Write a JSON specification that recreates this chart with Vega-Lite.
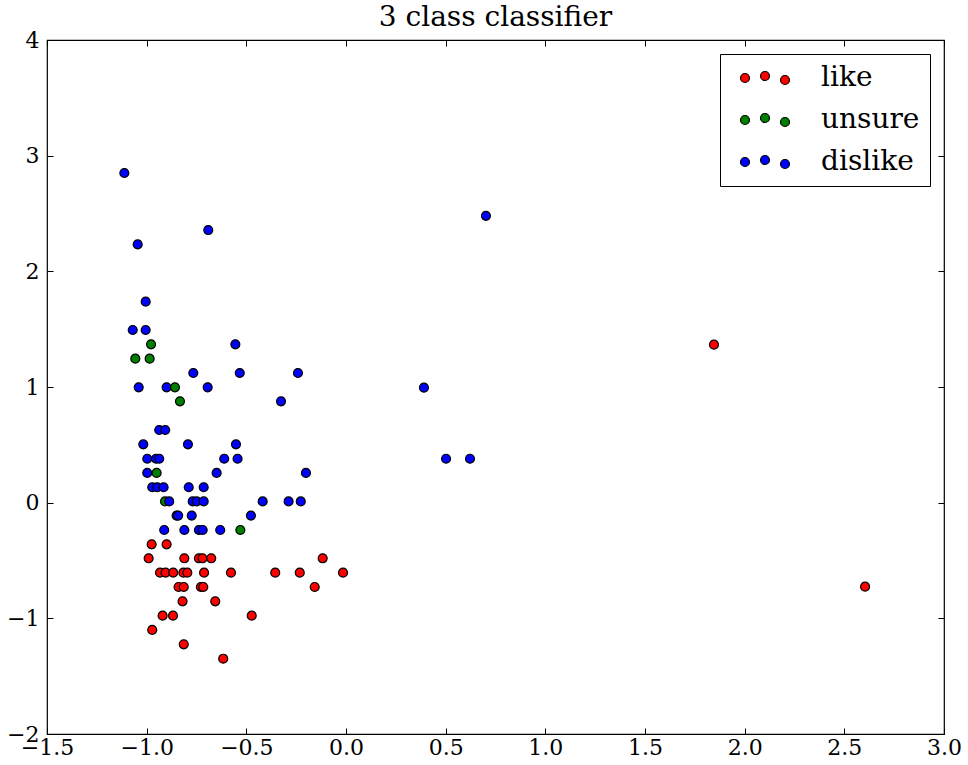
{
  "$schema": "https://vega.github.io/schema/vega-lite/v6.json",
  "autosize": {"type": "none"},
  "padding": {"left": 47, "top": 40, "right": 24, "bottom": 31},
  "width": 897,
  "height": 694,
  "background": "white",
  "config": {
    "font": "DejaVu Serif",
    "view": {"stroke": "black", "strokeWidth": 1.2},
    "axis": {"grid": false, "domain": false, "tickColor": "black", "labelColor": "black", "labelFont": "DejaVu Serif", "labelFontSize": 22, "tickSize": -6, "tickWidth": 1}
  },
  "title": {"text": "3 class classifier", "fontSize": 28, "fontWeight": "normal", "font": "DejaVu Serif", "color": "black", "offset": -3, "anchor": "middle"},
  "data": {"values": [
    {"x": 1.846, "y": 1.366, "label": "like"},
    {"x": 2.604, "y": -0.726, "label": "like"},
    {"x": -0.975, "y": -0.36, "label": "like"},
    {"x": -0.9, "y": -0.36, "label": "like"},
    {"x": -0.99, "y": -0.481, "label": "like"},
    {"x": -0.811, "y": -0.481, "label": "like"},
    {"x": -0.738, "y": -0.481, "label": "like"},
    {"x": -0.72, "y": -0.481, "label": "like"},
    {"x": -0.676, "y": -0.481, "label": "like"},
    {"x": -0.117, "y": -0.481, "label": "like"},
    {"x": -0.933, "y": -0.605, "label": "like"},
    {"x": -0.905, "y": -0.605, "label": "like"},
    {"x": -0.867, "y": -0.605, "label": "like"},
    {"x": -0.816, "y": -0.605, "label": "like"},
    {"x": -0.796, "y": -0.605, "label": "like"},
    {"x": -0.712, "y": -0.605, "label": "like"},
    {"x": -0.577, "y": -0.605, "label": "like"},
    {"x": -0.355, "y": -0.605, "label": "like"},
    {"x": -0.232, "y": -0.605, "label": "like"},
    {"x": -0.015, "y": -0.605, "label": "like"},
    {"x": -0.84, "y": -0.729, "label": "like"},
    {"x": -0.814, "y": -0.729, "label": "like"},
    {"x": -0.728, "y": -0.729, "label": "like"},
    {"x": -0.716, "y": -0.729, "label": "like"},
    {"x": -0.157, "y": -0.729, "label": "like"},
    {"x": -0.82, "y": -0.853, "label": "like"},
    {"x": -0.656, "y": -0.853, "label": "like"},
    {"x": -0.92, "y": -0.977, "label": "like"},
    {"x": -0.868, "y": -0.977, "label": "like"},
    {"x": -0.473, "y": -0.977, "label": "like"},
    {"x": -0.972, "y": -1.1, "label": "like"},
    {"x": -0.814, "y": -1.225, "label": "like"},
    {"x": -0.616, "y": -1.349, "label": "like"},
    {"x": -0.978, "y": 1.369, "label": "unsure"},
    {"x": -1.057, "y": 1.245, "label": "unsure"},
    {"x": -0.985, "y": 1.245, "label": "unsure"},
    {"x": -0.833, "y": 0.876, "label": "unsure"},
    {"x": -0.908, "y": 0.011, "label": "unsure"},
    {"x": -0.53, "y": -0.236, "label": "unsure"},
    {"x": -1.112, "y": 2.85, "label": "dislike"},
    {"x": -0.691, "y": 2.357, "label": "dislike"},
    {"x": -1.045, "y": 2.233, "label": "dislike"},
    {"x": -1.005, "y": 1.738, "label": "dislike"},
    {"x": -1.07, "y": 1.493, "label": "dislike"},
    {"x": -1.005, "y": 1.493, "label": "dislike"},
    {"x": -0.555, "y": 1.369, "label": "dislike"},
    {"x": -0.766, "y": 1.121, "label": "dislike"},
    {"x": -0.533, "y": 1.121, "label": "dislike"},
    {"x": -0.241, "y": 1.121, "label": "dislike"},
    {"x": -1.04, "y": 0.997, "label": "dislike"},
    {"x": -0.9, "y": 0.997, "label": "dislike"},
    {"x": -0.694, "y": 0.997, "label": "dislike"},
    {"x": -0.326, "y": 0.876, "label": "dislike"},
    {"x": -0.937, "y": 0.628, "label": "dislike"},
    {"x": -0.907, "y": 0.628, "label": "dislike"},
    {"x": -1.017, "y": 0.504, "label": "dislike"},
    {"x": -0.793, "y": 0.504, "label": "dislike"},
    {"x": -0.552, "y": 0.504, "label": "dislike"},
    {"x": -0.997, "y": 0.38, "label": "dislike"},
    {"x": -0.953, "y": 0.38, "label": "dislike"},
    {"x": -0.937, "y": 0.38, "label": "dislike"},
    {"x": -0.611, "y": 0.38, "label": "dislike"},
    {"x": -0.544, "y": 0.38, "label": "dislike"},
    {"x": -0.997, "y": 0.257, "label": "dislike"},
    {"x": -0.649, "y": 0.257, "label": "dislike"},
    {"x": -0.201, "y": 0.257, "label": "dislike"},
    {"x": -0.972, "y": 0.133, "label": "dislike"},
    {"x": -0.947, "y": 0.133, "label": "dislike"},
    {"x": -0.915, "y": 0.133, "label": "dislike"},
    {"x": -0.789, "y": 0.133, "label": "dislike"},
    {"x": -0.714, "y": 0.133, "label": "dislike"},
    {"x": -0.887, "y": 0.011, "label": "dislike"},
    {"x": -0.769, "y": 0.011, "label": "dislike"},
    {"x": -0.749, "y": 0.011, "label": "dislike"},
    {"x": -0.714, "y": 0.011, "label": "dislike"},
    {"x": -0.418, "y": 0.011, "label": "dislike"},
    {"x": -0.288, "y": 0.011, "label": "dislike"},
    {"x": -0.227, "y": 0.011, "label": "dislike"},
    {"x": -0.85, "y": -0.112, "label": "dislike"},
    {"x": -0.842, "y": -0.112, "label": "dislike"},
    {"x": -0.774, "y": -0.112, "label": "dislike"},
    {"x": -0.477, "y": -0.112, "label": "dislike"},
    {"x": -0.912, "y": -0.236, "label": "dislike"},
    {"x": -0.811, "y": -0.236, "label": "dislike"},
    {"x": -0.738, "y": -0.236, "label": "dislike"},
    {"x": -0.719, "y": -0.236, "label": "dislike"},
    {"x": -0.631, "y": -0.236, "label": "dislike"},
    {"x": 0.702, "y": 2.48, "label": "dislike"},
    {"x": 0.391, "y": 0.994, "label": "dislike"},
    {"x": 0.502, "y": 0.38, "label": "dislike"},
    {"x": 0.622, "y": 0.38, "label": "dislike"},
    {"x": -0.858, "y": 0.997, "label": "unsure"},
    {"x": -0.95, "y": 0.257, "label": "unsure"}
  ]},
  "layer": [
    {
      "mark": {"type": "circle", "opacity": 1, "size": 80, "stroke": "black", "strokeWidth": 1.2},
      "encoding": {
        "x": {"field": "x", "type": "quantitative", "scale": {"domain": [-1.5, 3.0], "nice": false, "zero": false}, "axis": {"title": null, "values": [-1.5, -1.0, -0.5, 0.0, 0.5, 1.0, 1.5, 2.0, 2.5, 3.0], "format": ".1f", "labelPadding": 9, "labelFlush": false}},
        "y": {"field": "y", "type": "quantitative", "scale": {"domain": [-2, 4], "nice": false, "zero": false}, "axis": {"title": null, "values": [-2, -1, 0, 1, 2, 3, 4], "format": "d", "labelPadding": 14, "labelFlush": false}},
        "color": {
          "field": "label", "type": "nominal",
          "scale": {"domain": ["like", "unsure", "dislike"], "range": ["#ff0000", "#008000", "#0000ff"]},
          "legend": {
            "title": null, "orient": "top-right", "offset": 14,
            "strokeColor": "black", "fillColor": "white", "padding": 10,
            "labelFontSize": 28, "labelFont": "DejaVu Serif", "labelColor": "black",
            "rowPadding": 14, "symbolSize": 400, "symbolOffset": 21, "labelOffset": 42,
            "symbolType": "M-2.45,0a0.45,0.45 0 1,0 0.9,0a0.45,0.45 0 1,0 -0.9,0M-0.45,-0.2a0.45,0.45 0 1,0 0.9,0a0.45,0.45 0 1,0 -0.9,0M1.55,0.2a0.45,0.45 0 1,0 0.9,0a0.45,0.45 0 1,0 -0.9,0",
            "symbolStrokeColor": "black", "symbolStrokeWidth": 1.2, "cornerRadius": 0,
            "encode": {"symbols": {"update": {"stroke": {"value": "black"}, "strokeWidth": {"value": 1.2}, "opacity": {"value": 1}}}}
          }
        }
      }
    },
    {
      "mark": {"type": "point", "opacity": 0},
      "encoding": {
        "x": {"field": "x", "type": "quantitative", "axis": {"orient": "top", "labels": false, "title": null, "values": [-1.5, -1.0, -0.5, 0.0, 0.5, 1.0, 1.5, 2.0, 2.5, 3.0]}},
        "y": {"field": "y", "type": "quantitative", "axis": {"orient": "right", "labels": false, "title": null, "values": [-2, -1, 0, 1, 2, 3, 4]}}
      }
    }
  ],
  "resolve": {"axis": {"x": "independent", "y": "independent"}}
}
